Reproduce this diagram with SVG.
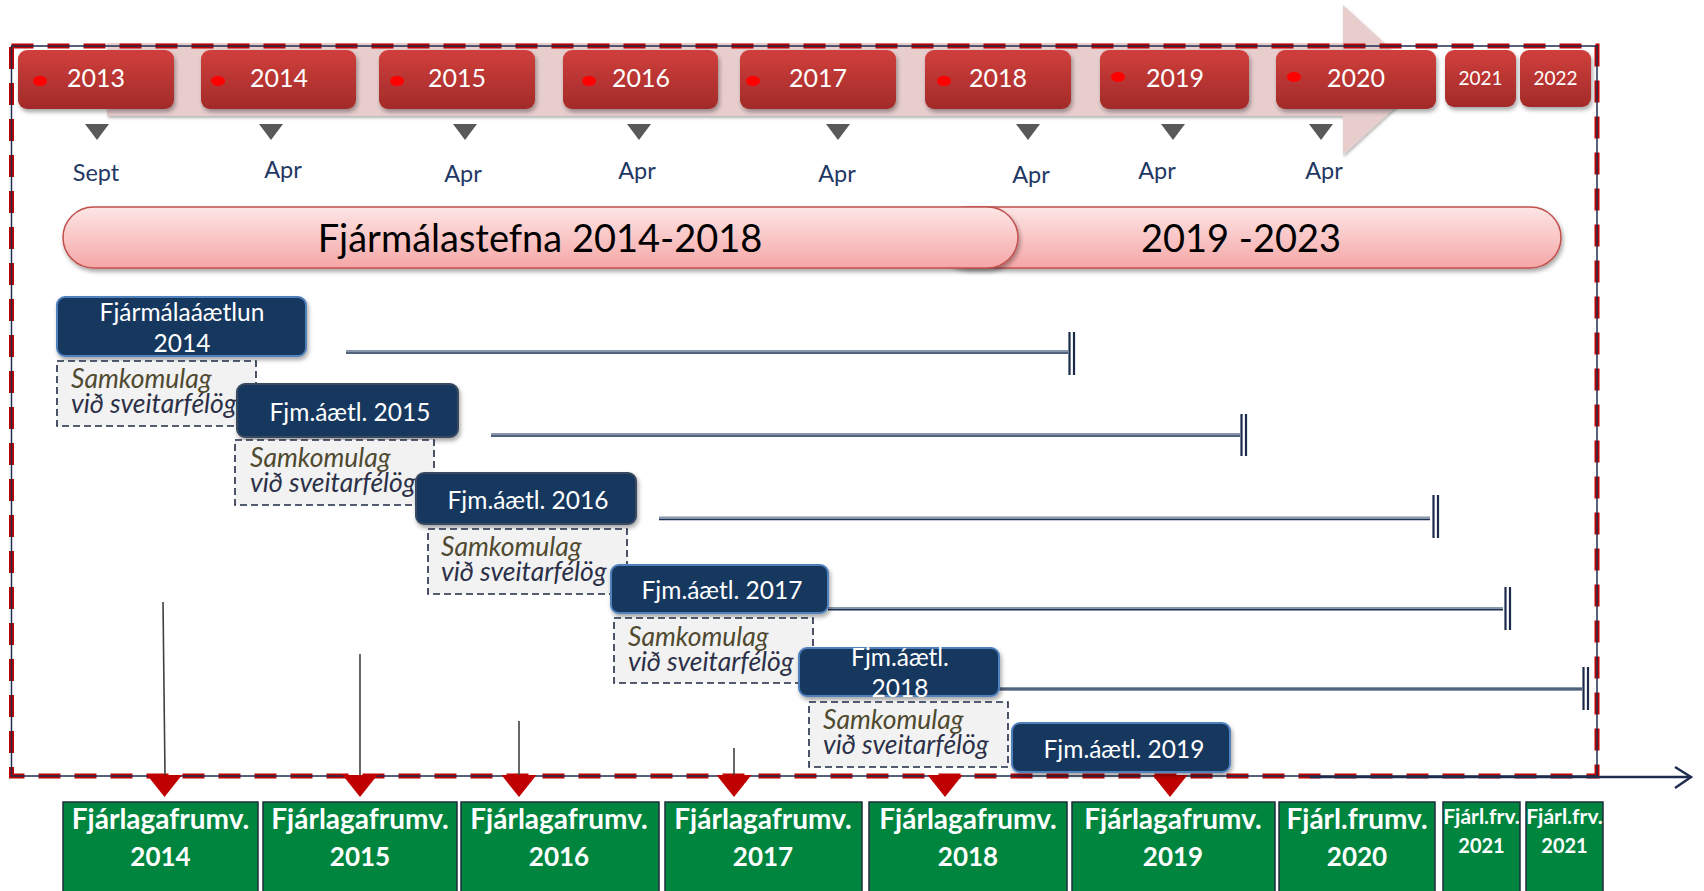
<svg xmlns="http://www.w3.org/2000/svg" width="1704" height="891" viewBox="0 0 1704 891">
<defs>
  <linearGradient id="gYear" x1="0" y1="0" x2="0" y2="1">
    <stop offset="0" stop-color="#d03f3c"/>
    <stop offset="1" stop-color="#a22b29"/>
  </linearGradient>
  <linearGradient id="gPill" x1="0" y1="0" x2="0" y2="1">
    <stop offset="0" stop-color="#fde6e6"/>
    <stop offset="1" stop-color="#f6a6a6"/>
  </linearGradient>
  <filter id="sh" x="-10%" y="-20%" width="125%" height="160%">
    <feDropShadow dx="1.5" dy="3" stdDeviation="2" flood-color="#000" flood-opacity="0.35"/>
  </filter>
  <filter id="shs" x="-10%" y="-20%" width="125%" height="160%">
    <feDropShadow dx="1" dy="2" stdDeviation="1.5" flood-color="#000" flood-opacity="0.3"/>
  </filter>
</defs>
<style>
  text { font-family: Lato, "Open Sans", "Liberation Sans", sans-serif; }
  .yr { fill: url(#gYear); filter: url(#sh); }
  .yrt { fill: #ffffff; font-size: 25px; text-anchor: middle; }
  .yrs { fill: #ffffff; font-size: 19px; text-anchor: middle; }
  .dot { fill: #ff0000; }
  .tri { fill: #595959; }
  .mon { fill: #1f3864; font-size: 23.5px; text-anchor: middle; }
  .pill { fill: url(#gPill); stroke: #c0504d; stroke-width: 1.5; filter: url(#sh); }
  .pillt { fill: #000; font-size: 38px; text-anchor: middle; }
  .nb { fill: #17375e; stroke: #4f81bd; stroke-width: 2; filter: url(#sh); }
  .nb2 { fill: #17375e; stroke: #3a4a60; stroke-width: 2; filter: url(#sh); }
  .nbt { fill: #ffffff; font-size: 24.5px; text-anchor: middle; }
  .db { fill: #f2f2f2; stroke: #1f2a44; stroke-width: 1.6; stroke-dasharray: 7 4; }
  .dt1 { fill: #4f4a30; font-size: 26.5px; font-style: italic; }
  .dt2 { fill: #2b3048; font-size: 26.5px; font-style: italic; }
  .pl { stroke: #8796ab; stroke-width: 4; fill: none; }
  .pl2 { stroke: #1f3050; stroke-width: 1.2; fill: none; }
  .end { stroke: #1a2a48; stroke-width: 2.2; fill: none; }
  .vl { stroke: #404040; stroke-width: 1.6; fill: none; }
  .rt { fill: #c00000; }
  .gb { fill: #00853f; stroke: #1f2d3d; stroke-width: 1.5; }
  .gt { fill: #ffffff; font-weight: bold; text-anchor: middle; }
</style>

<rect width="1704" height="891" fill="#ffffff"/>

<!-- background arrow band -->
<g id="timeline-band">
  <polygon points="107,43 1343,43 1343,5 1425,80 1343,155 1343,116 107,116" fill="#e8cdcd" filter="url(#shs)"/>
</g>

<!-- frame -->
<g id="frame">
  <rect x="11.5" y="46" width="1585.5" height="730" fill="none" stroke="#c00000" stroke-width="5" stroke-dasharray="22 14"/>
  <rect x="11.5" y="46" width="1585.5" height="730" fill="none" stroke="#1f2d4e" stroke-width="1.5"/>
</g>

<!-- year boxes -->
<g id="y2013"><rect class="yr" x="18" y="50" width="156" height="59" rx="9"/><ellipse class="dot" cx="40" cy="81" rx="7" ry="5"/><text class="yrt" x="96" y="87">2013</text></g>
<g id="y2014"><rect class="yr" x="201" y="50" width="155" height="59" rx="9"/><ellipse class="dot" cx="218" cy="81" rx="7" ry="5"/><text class="yrt" x="279" y="87">2014</text></g>
<g id="y2015"><rect class="yr" x="379" y="50" width="156" height="59" rx="9"/><ellipse class="dot" cx="397" cy="81" rx="7" ry="5"/><text class="yrt" x="457" y="87">2015</text></g>
<g id="y2016"><rect class="yr" x="563" y="50" width="155" height="59" rx="9"/><ellipse class="dot" cx="589" cy="81" rx="7" ry="5"/><text class="yrt" x="641" y="87">2016</text></g>
<g id="y2017"><rect class="yr" x="740" y="50" width="156" height="59" rx="9"/><ellipse class="dot" cx="753" cy="81" rx="7" ry="5"/><text class="yrt" x="818" y="87">2017</text></g>
<g id="y2018"><rect class="yr" x="925" y="50" width="146" height="59" rx="9"/><ellipse class="dot" cx="944" cy="81" rx="7" ry="5"/><text class="yrt" x="998" y="87">2018</text></g>
<g id="y2019"><rect class="yr" x="1100" y="50" width="149" height="59" rx="9"/><ellipse class="dot" cx="1118" cy="77" rx="7" ry="5"/><text class="yrt" x="1175" y="87">2019</text></g>
<g id="y2020"><rect class="yr" x="1276" y="50" width="160" height="59" rx="9"/><ellipse class="dot" cx="1294" cy="77" rx="7" ry="5"/><text class="yrt" x="1356" y="87">2020</text></g>
<g id="y2021"><rect class="yr" x="1445" y="50" width="71" height="57" rx="9"/><text class="yrs" x="1480.5" y="85">2021</text></g>
<g id="y2022"><rect class="yr" x="1520" y="50" width="71" height="57" rx="9"/><text class="yrs" x="1555.5" y="85">2022</text></g>

<!-- month markers -->
<g id="months">
  <polygon class="tri" points="85,124 109,124 97,140"/>
  <polygon class="tri" points="259,124 283,124 271,140"/>
  <polygon class="tri" points="453,124 477,124 465,140"/>
  <polygon class="tri" points="627,124 651,124 639,140"/>
  <polygon class="tri" points="826,124 850,124 838,140"/>
  <polygon class="tri" points="1016,124 1040,124 1028,140"/>
  <polygon class="tri" points="1161,124 1185,124 1173,140"/>
  <polygon class="tri" points="1309,124 1333,124 1321,140"/>
  <text class="mon" x="96" y="181">Sept</text>
  <text class="mon" x="283" y="178">Apr</text>
  <text class="mon" x="463" y="182">Apr</text>
  <text class="mon" x="637" y="179">Apr</text>
  <text class="mon" x="837" y="182">Apr</text>
  <text class="mon" x="1031" y="183">Apr</text>
  <text class="mon" x="1157" y="179">Apr</text>
  <text class="mon" x="1324" y="179">Apr</text>
</g>

<!-- policy pills -->
<g id="pill-2019-2023"><rect class="pill" x="937" y="207" width="624" height="61" rx="30.5"/><text class="pillt" x="1241" y="252" font-size="36.5">2019 -2023</text></g>
<g id="pill-2014-2018"><rect class="pill" x="63" y="207" width="955" height="61" rx="30.5"/><text class="pillt" x="540" y="252">Fjármálastefna 2014-2018</text></g>

<!-- connectors -->
<g id="connectors">
  <line class="pl" x1="346" y1="352" x2="1068" y2="352"/><line class="pl2" x1="346" y1="353" x2="1068" y2="353"/>
  <line class="end" x1="1069.5" y1="332" x2="1069.5" y2="375"/><line class="end" x1="1074" y1="332" x2="1074" y2="375"/>
  <line class="pl" x1="491" y1="435" x2="1240" y2="435"/><line class="pl2" x1="491" y1="436" x2="1240" y2="436"/>
  <line class="end" x1="1241.5" y1="414" x2="1241.5" y2="456"/><line class="end" x1="1246" y1="414" x2="1246" y2="456"/>
  <line class="pl" x1="659" y1="518.5" x2="1430" y2="518.5"/><line class="pl2" x1="659" y1="519.5" x2="1430" y2="519.5"/>
  <line class="end" x1="1433.5" y1="495" x2="1433.5" y2="538"/><line class="end" x1="1438" y1="495" x2="1438" y2="538"/>
  <line class="pl" x1="828" y1="609" x2="1503" y2="609" stroke-width="3"/><line class="pl2" x1="828" y1="609.5" x2="1503" y2="609.5"/>
  <line class="end" x1="1505.5" y1="587" x2="1505.5" y2="630"/><line class="end" x1="1510" y1="587" x2="1510" y2="630"/>
  <line class="pl" x1="999" y1="689" x2="1582" y2="689"/><line class="pl2" x1="999" y1="689" x2="1582" y2="689"/>
  <line class="end" x1="1583.5" y1="667" x2="1583.5" y2="710"/><line class="end" x1="1588" y1="667" x2="1588" y2="710"/>
  <line class="vl" x1="163" y1="602" x2="165" y2="776"/>
  <line class="vl" x1="360" y1="654" x2="360" y2="776"/>
  <line class="vl" x1="519" y1="721" x2="519" y2="776"/>
  <line class="vl" x1="734" y1="748" x2="734" y2="776"/>
  <line x1="1310" y1="777" x2="1690" y2="777" stroke="#1f2d4e" stroke-width="2.5"/>
  <polyline points="1675,767 1691,777 1675,788" fill="none" stroke="#1f2d4e" stroke-width="2.5"/>
  <polygon class="rt" points="147,775 182,775 164.5,797"/>
  <polygon class="rt" points="342.5,775 377.5,775 360,797"/>
  <polygon class="rt" points="501.5,775 536.5,775 519,797"/>
  <polygon class="rt" points="716.5,775 751.5,775 734,797"/>
  <polygon class="rt" points="927.5,775 962.5,775 945,797"/>
  <polygon class="rt" points="1152.5,775 1187.5,775 1170,797"/>
</g>

<!-- plans and agreements -->
<g id="plan2014"><rect class="nb" x="57" y="297" width="249" height="59" rx="8"/><text class="nbt" x="182" y="321">Fjármálaáætlun</text><text class="nbt" x="182" y="352">2014</text></g>
<g id="agree1"><rect class="db" x="57" y="361" width="199" height="65"/><text class="dt1" x="71" y="388">Samkomulag</text><text class="dt2" x="71" y="413">við sveitarfélög</text></g>
<g id="plan2015"><rect class="nb2" x="237" y="384" width="221" height="53" rx="8"/><text class="nbt" x="350" y="421">Fjm.áætl. 2015</text></g>
<g id="agree2"><rect class="db" x="235" y="440" width="199" height="65"/><text class="dt1" x="250" y="467">Samkomulag</text><text class="dt2" x="250" y="492">við sveitarfélög</text></g>
<g id="plan2016"><rect class="nb2" x="416" y="473" width="220" height="51" rx="8"/><text class="nbt" x="528" y="509">Fjm.áætl. 2016</text></g>
<g id="agree3"><rect class="db" x="428" y="529" width="199" height="65"/><text class="dt1" x="441" y="556">Samkomulag</text><text class="dt2" x="441" y="581">við sveitarfélög</text></g>
<g id="plan2017"><rect class="nb" x="611" y="565" width="217" height="48" rx="8"/><text class="nbt" x="722" y="599">Fjm.áætl. 2017</text></g>
<g id="agree4"><rect class="db" x="614" y="618" width="199" height="65"/><text class="dt1" x="628" y="646">Samkomulag</text><text class="dt2" x="628" y="671">við sveitarfélög</text></g>
<g id="plan2018"><rect class="nb" x="799" y="648" width="200" height="48" rx="8"/><text class="nbt" x="900" y="666">Fjm.áætl.</text><text class="nbt" x="900" y="697">2018</text></g>
<g id="agree5"><rect class="db" x="809" y="702" width="199" height="65"/><text class="dt1" x="823" y="729">Samkomulag</text><text class="dt2" x="823" y="754">við sveitarfélög</text></g>
<g id="plan2019"><rect class="nb" x="1012" y="723" width="218" height="49" rx="8"/><text class="nbt" x="1124" y="758">Fjm.áætl. 2019</text></g>

<!-- budget bills -->
<g id="bill2014"><rect class="gb" x="63" y="802" width="195" height="100"/><text class="gt" x="160.5" y="829" font-size="28">Fjárlagafrumv.</text><text class="gt" x="160.5" y="866" font-size="26">2014</text></g>
<g id="bill2015"><rect class="gb" x="263" y="802" width="194" height="100"/><text class="gt" x="360" y="829" font-size="28">Fjárlagafrumv.</text><text class="gt" x="360" y="866" font-size="26">2015</text></g>
<g id="bill2016"><rect class="gb" x="461" y="802" width="198" height="100"/><text class="gt" x="559" y="829" font-size="28">Fjárlagafrumv.</text><text class="gt" x="559" y="866" font-size="26">2016</text></g>
<g id="bill2017"><rect class="gb" x="665" y="802" width="197" height="100"/><text class="gt" x="763" y="829" font-size="28">Fjárlagafrumv.</text><text class="gt" x="763" y="866" font-size="26">2017</text></g>
<g id="bill2018"><rect class="gb" x="869" y="802" width="198" height="100"/><text class="gt" x="968" y="829" font-size="28">Fjárlagafrumv.</text><text class="gt" x="968" y="866" font-size="26">2018</text></g>
<g id="bill2019"><rect class="gb" x="1072" y="802" width="203" height="100"/><text class="gt" x="1173" y="829" font-size="28">Fjárlagafrumv.</text><text class="gt" x="1173" y="866" font-size="26">2019</text></g>
<g id="bill2020"><rect class="gb" x="1279" y="802" width="156" height="100"/><text class="gt" x="1357" y="829" font-size="28">Fjárl.frumv.</text><text class="gt" x="1357" y="866" font-size="26">2020</text></g>
<g id="bill2021a"><rect class="gb" x="1443" y="802" width="77" height="100"/><text class="gt" x="1481.5" y="824" font-size="21">Fjárl.frv.</text><text class="gt" x="1481.5" y="853" font-size="20">2021</text></g>
<g id="bill2021b"><rect class="gb" x="1526" y="802" width="77" height="100"/><text class="gt" x="1564.5" y="824" font-size="21">Fjárl.frv.</text><text class="gt" x="1564.5" y="853" font-size="20">2021</text></g>
</svg>
